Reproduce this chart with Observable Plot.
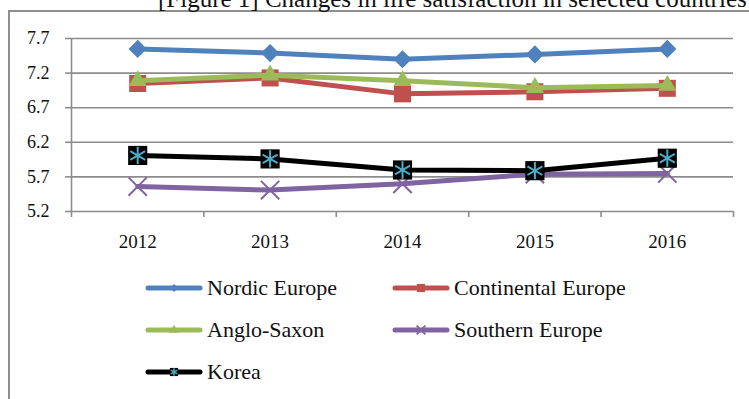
<!DOCTYPE html>
<html>
<head>
<meta charset="utf-8">
<script src="https://cdn.jsdelivr.net/npm/d3@7"></script>
<script src="https://cdn.jsdelivr.net/npm/@observablehq/plot@0.6"></script>
<style>
  body { margin: 0; background: #fff; }
  #wrap { position: relative; width: 749px; height: 399px; overflow: hidden; font-family: "Liberation Serif", serif; color: #111; }
  #frame { position: absolute; left: 8px; top: 10px; width: 800px; height: 420px; border-left: 2px solid #8f8f8f; border-top: 2px solid #8f8f8f; }
  #title { position: absolute; left: 158px; top: -15px; font-size: 25px; line-height: 28px; white-space: nowrap; }
  #chart { position: absolute; left: 0; top: 0; }
  .leg { position: absolute; display: flex; align-items: center; font-size: 22px; line-height: 24px; white-space: nowrap; }
  .leg svg { margin-right: 4px; }
</style>
</head>
<body>
<div id="wrap">
  <div id="frame"></div>
  <div id="title">[Figure 1] Changes in life satisfaction in selected countries</div>
  <div id="chart"></div>
</div>
<script>
// Survey years and life-satisfaction scores by country group
const years = ["2012", "2013", "2014", "2015", "2016"];
const nordicEurope = [7.55, 7.49, 7.40, 7.47, 7.55];
const continentalEurope = [7.05, 7.13, 6.90, 6.93, 6.98];
const angloSaxon = [7.09, 7.17, 7.09, 6.99, 7.02];
const southernEurope = [5.56, 5.51, 5.60, 5.74, 5.75];
const korea = [6.01, 5.96, 5.80, 5.79, 5.97];
const yTicks = [5.2, 5.7, 6.2, 6.7, 7.2, 7.7];

const series = [
  {name: "Nordic Europe", values: nordicEurope, color: "#4f81bd", symbol: "diamond2", r: 8.2, legendR: 3.6},
  {name: "Continental Europe", values: continentalEurope, color: "#c0504d", symbol: "square", r: 9.6, legendR: 4.6},
  {name: "Anglo-Saxon", values: angloSaxon, color: "#9bbb59", symbol: "triangle", r: 6.8, legendR: 3.4},
  {name: "Southern Europe", values: southernEurope, color: "#8064a2", symbol: "times", r: 8.4, legendR: 4},
  {name: "Korea", values: korea, color: "#000000", symbol: "square", r: 10.8, legendR: 4.6, star: "#4bacc6"}
];

const rows = s => s.values.map((v, i) => ({series: s.name, i, v}));
const gray = "#8c8c8c";

const marks = [
  Plot.gridY(yTicks, {stroke: gray, strokeOpacity: 1, strokeWidth: 1.6}),
  Plot.axisY(yTicks, {label: null, tickSize: 6, tickPadding: 16, stroke: gray, strokeWidth: 1.6, tickFormat: d => d.toFixed(1), fontSize: 18}),
  Plot.ruleX([-0.5], {stroke: gray, strokeWidth: 1.6}),
  Plot.axisX([-0.5, 0.5, 1.5, 2.5, 3.5, 4.5], {label: null, tickSize: 6, stroke: gray, strokeWidth: 1.6, tickFormat: () => ""}),
  Plot.axisX([0, 1, 2, 3, 4], {label: null, tickSize: 0, tickPadding: 23, tickFormat: i => years[i], fontSize: 19})
];

for (const s of series) {
  const data = rows(s);
  marks.push(Plot.line(data, {x: "i", y: "v", stroke: s.color, strokeWidth: 5, strokeLinejoin: "round", strokeLinecap: "round"}));
  if (s.symbol === "times") {
    marks.push(Plot.dot(data, {x: "i", y: "v", symbol: "times", r: s.r, stroke: s.color, strokeWidth: 2}));
  } else {
    marks.push(Plot.dot(data, {x: "i", y: "v", symbol: s.symbol, r: s.r, fill: s.color, stroke: "none"}));
  }
  if (s.star) {
    marks.push(Plot.dot(data, {x: "i", y: "v", symbol: "asterisk", r: 8.2, stroke: s.star, strokeWidth: 2}));
  }
}

const chart = Plot.plot({
  width: 749,
  height: 399,
  marginLeft: 71,
  marginRight: 16,
  marginTop: 38,
  marginBottom: 188,
  x: {type: "linear", domain: [-0.5, 4.5], axis: null},
  y: {domain: [5.2, 7.7], axis: null},
  style: {fontFamily: "Liberation Serif, serif", color: "#111", background: "transparent"},
  marks
});
document.getElementById("chart").append(chart);

// Legend: two columns, three rows
const legendPos = [
  {left: 145, top: 288}, {left: 392, top: 288},
  {left: 145, top: 330}, {left: 392, top: 330},
  {left: 145, top: 372}
];
const symbolTypes = {diamond2: d3.symbolDiamond2, square: d3.symbolSquare, triangle: d3.symbolTriangle, times: d3.symbolTimes};
series.forEach((s, k) => {
  const p = legendPos[k];
  const item = document.createElement("div");
  item.className = "leg";
  item.style.left = p.left + "px";
  item.style.top = (p.top - 12) + "px";
  const svg = d3.create("svg").attr("width", 58).attr("height", 24);
  svg.append("line").attr("x1", 3).attr("x2", 55).attr("y1", 12).attr("y2", 12)
    .attr("stroke", s.color).attr("stroke-width", 5).attr("stroke-linecap", "round");
  const size = Math.PI * s.legendR * s.legendR;
  const path = d3.symbol(symbolTypes[s.symbol], size)();
  const g = svg.append("path").attr("d", path).attr("transform", "translate(29,12)");
  if (s.symbol === "times") g.attr("fill", "none").attr("stroke", s.color).attr("stroke-width", 1.8);
  else g.attr("fill", s.color);
  if (s.star) {
    svg.append("path").attr("d", d3.symbol(d3.symbolAsterisk, 40)()).attr("transform", "translate(29,12)")
      .attr("fill", "none").attr("stroke", s.star).attr("stroke-width", 1.5);
  }
  item.append(svg.node());
  const label = document.createElement("span");
  label.textContent = s.name;
  item.append(label);
  document.getElementById("wrap").append(item);
});
</script>
</body>
</html>
